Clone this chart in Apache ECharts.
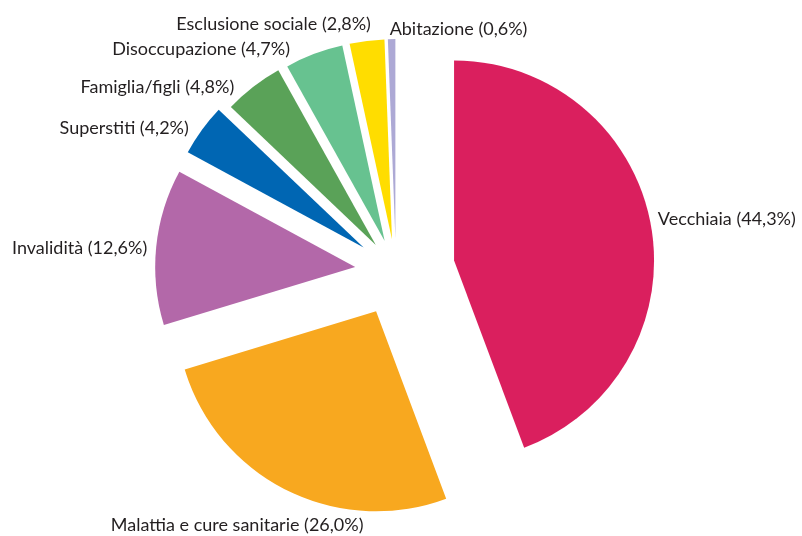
<!DOCTYPE html>
<html>
<head>
<meta charset="utf-8">
<script src="https://cdn.jsdelivr.net/npm/echarts@6/dist/echarts.min.js"></script>
<style>html,body{margin:0;padding:0;background:#fff}#c{width:802px;height:536px}</style>
</head>
<body>
<div id="c"></div>
<script>
const categories = ['Vecchiaia', 'Malattia e cure sanitarie', 'Invalidità', 'Superstiti', 'Famiglia/figli', 'Disoccupazione', 'Esclusione sociale', 'Abitazione'];
const values = [44.3, 26.0, 12.6, 4.2, 4.8, 4.7, 2.8, 0.6];
const colors = ['#DA1F5E', '#F8A81F', '#B368A9', '#0066B3', '#5AA258', '#67C290', '#FFDD00', '#ADA9D5'];

// per-slice explode distance and label nudges (layout only)
const explode = [59, 45, 41, 40, 33, 32, 32, 32];
const labelNudge = [
  {dx: 2, dy: -6},
  {dx: 81, dy: 35},
  {dx: -4, dy: 1},
  {dx: -8, dy: -2},
  {dx: -14, dy: 0},
  {dx: -19, dy: -5},
  {dx: 9, dy: -17},
  {dx: 3, dy: -10, align: 'left'}
];

const chart = echarts.init(document.getElementById('c'), null, {renderer: 'canvas'});
const fmt = v => v.toFixed(1).replace('.', ',');

const series = categories.map((cat, i) => ({
  type: 'pie',
  center: [396, 271],
  radius: 200,
  startAngle: 90,
  clockwise: true,
  silent: true,
  animation: false,
  avoidLabelOverlap: false,
  selectedMode: 'multiple',
  selectedOffset: explode[i],
  label: {
    show: true,
    position: 'outside',
    distanceToLabelLine: 5,
    fontFamily: 'Lato',
    fontSize: 18,
    color: '#231F20',
    formatter: p => p.name + ' (' + fmt(p.value) + '%)'
  },
  labelLine: {show: false, length: 0, length2: 0},
  labelLayout: labelNudge[i],
  emphasis: {disabled: true},
  data: categories.map((name, j) => ({
    name: name,
    value: values[j],
    selected: j === i,
    itemStyle: {color: j === i ? colors[j] : 'rgba(0,0,0,0)'},
    label: {show: j === i}
  }))
}));

chart.setOption({
  backgroundColor: '#fff',
  series: series
});
</script>
</body>
</html>
